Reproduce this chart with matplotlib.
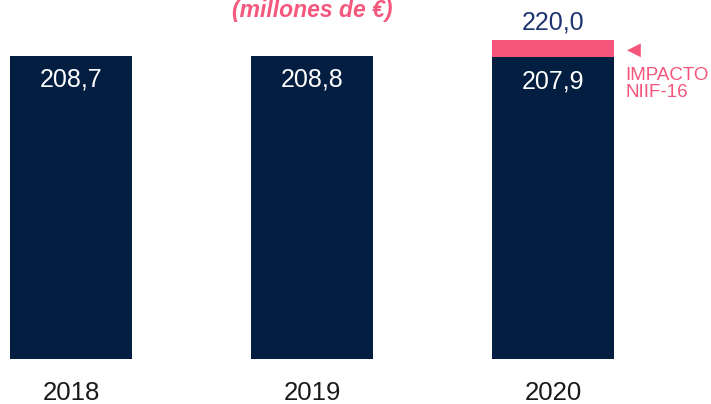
import matplotlib
matplotlib.use("Agg")
import matplotlib.pyplot as plt

# data
years = ["2018", "2019", "2020"]
base = [208.7, 208.8, 207.9]
impacto = [0, 0, 12.1]
base_labels = ["208,7", "208,8", "207,9"]
total_label = "220,0"

navy = "#041e42"
pink = "#f5557a"

fig = plt.figure(figsize=(7.11, 4.04), dpi=100)
ax = fig.add_axes([0, 45 / 404, 1, 359 / 404])

x = range(len(years))
ax.bar(x, base, width=0.506, color=navy)
ax.bar(x, impacto, bottom=base, width=0.506, color=pink)

for i, (v, lab) in enumerate(zip(base, base_labels)):
    ax.text(i, v - 16.5, lab, ha="center", va="center", color="white",
            fontsize=18, family="Liberation Sans")

tot = base[2] + impacto[2]
ax.text(2, tot + 12, total_label, ha="center", va="center", color="#1d3470",
        fontsize=18, family="Liberation Sans")

# impact note
ax.text(2.305, tot - 7, "\u25c0", ha="left", va="center", color=pink,
        fontsize=13, family="DejaVu Sans")
ax.text(2.300, base[2] - 7, "IMPACTO\nNIIF-16", ha="left", va="top",
        color=pink, fontsize=13.5, family="Liberation Sans", linespacing=0.95)

fig.text(312 / 711, 1 - 17 / 404, "(millones de €)", ha="center",
         va="baseline", color="#f4587c", fontsize=16.5, fontweight="bold",
         fontstyle="italic", family="Liberation Sans")

ax.set_xlim(-71 / 241, 640 / 241)
ax.set_ylim(0, 359 / 1.452)
ax.set_xticks(list(x))
ax.set_xticklabels(years, fontsize=18.5, color="#1a1a1a", family="Liberation Sans")
ax.tick_params(axis="x", length=0, pad=16)
ax.set_yticks([])
for s in ax.spines.values():
    s.set_visible(False)

fig.savefig("out.png", dpi=100)
